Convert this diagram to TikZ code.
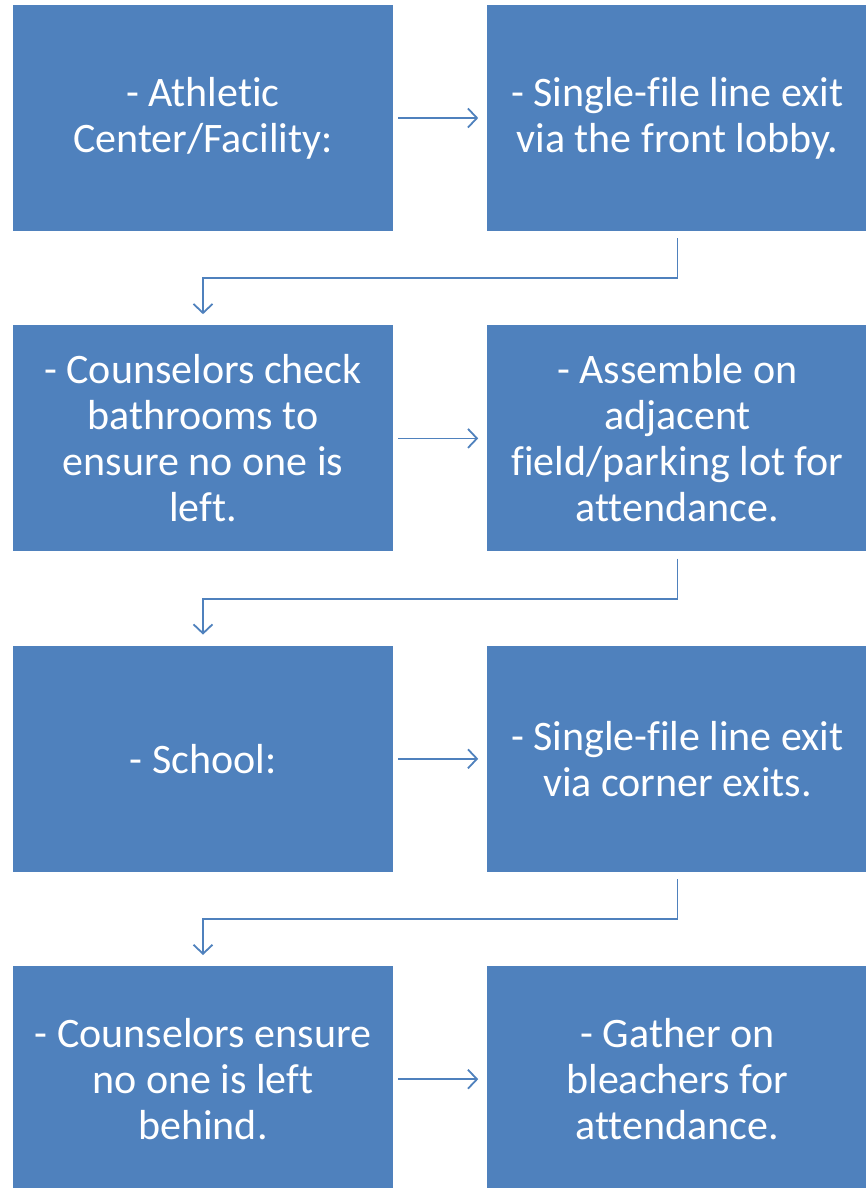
\documentclass[tikz,border=0pt]{standalone}
\usepackage{fontspec}
\setmainfont{Carlito}[Ligatures=NoCommon]
\usetikzlibrary{positioning,calc,arrows.meta}
\definecolor{officeblue}{RGB}{79,129,189}

\begin{document}
\begin{tikzpicture}[x=1pt, y=1pt,
	box/.style={rectangle, fill=officeblue, text=white, minimum width=380pt, minimum height=226pt, align=center, inner sep=0pt, font=\fontsize{42}{46}\selectfont},
	flow/.style={-{Straight Barb[length=9pt, width=19pt]}, officeblue, line width=1.8pt}]
	\useasboundingbox (0,0) rectangle (865,-1188);
	\node[box] (ath) at (203,-118) {- Athletic\\Center/Facility:};
	\node[box, right=94pt of ath] (lobby) {- Single-file line exit\\via the front lobby.};
	\node[box, below=94pt of ath] (check) {- Counselors check\\bathrooms to\\ensure no one is\\left.};
	\node[box, right=94pt of check] (field) {- Assemble on\\adjacent\\field/parking lot for\\attendance.};
	\node[box, below=94pt of check] (school) {- School:};
	\node[box, right=94pt of school] (corner) {- Single-file line exit\\via corner exits.};
	\node[box, below=94pt of school] (ensure) {- Counselors ensure\\no one is left\\behind.};
	\node[box, right=94pt of ensure] (bleach) {- Gather on\\bleachers for\\attendance.};
	% across the rows
	\foreach \a/\b in {ath/lobby, check/field, school/corner, ensure/bleach}
		\draw[flow, shorten <=5pt, shorten >=9pt] (\a) -- (\b);
	% back to the next row
	\foreach \a/\b in {lobby/check, field/school, corner/ensure}
		\draw[flow, shorten <=7pt, shorten >=11pt] (\a.south) |- ($(\a.south)!.5!(\b.north)$) -| (\b.north);
\end{tikzpicture}
\end{document}
